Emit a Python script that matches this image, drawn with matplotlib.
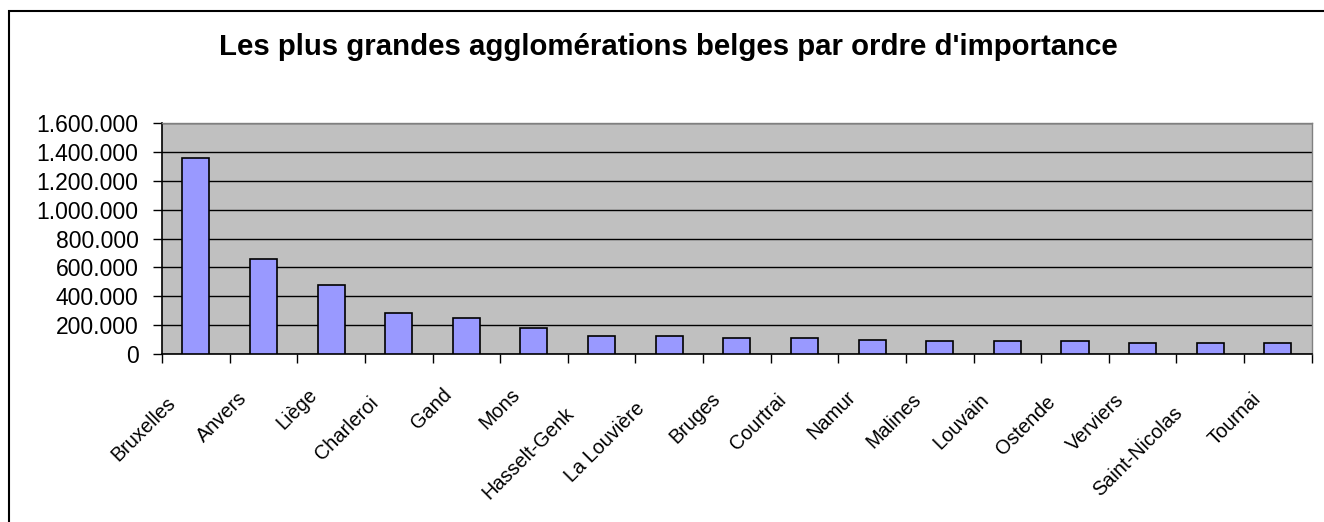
# bar chart: largest Belgian agglomerations
import matplotlib.pyplot as plt
from matplotlib.patches import Rectangle
from matplotlib.ticker import FuncFormatter
import matplotlib.transforms as mtransforms

cities = ["Bruxelles", "Anvers", "Liège", "Charleroi", "Gand", "Mons",
          "Hasselt-Genk", "La Louvière", "Bruges", "Courtrai", "Namur",
          "Malines", "Louvain", "Ostende", "Verviers", "Saint-Nicolas", "Tournai"]
population = [1360000, 655000, 475000, 280000, 250000, 180000,
              125000, 125000, 112000, 112000, 98000,
              86000, 86000, 86000, 72000, 72000, 72000]
yticks = list(range(0, 1600001, 200000))

plt.rcParams['font.family'] = ['Liberation Sans', 'DejaVu Sans']

W, H = 1324, 522
fig = plt.figure(figsize=(W / 100, H / 100), dpi=100)
ax = fig.add_axes([162 / W, 1 - 353.7 / H, (1311.7 - 162) / W, (353.7 - 123.3) / H])

# chart-area frame (right and bottom sides fall outside the picture)
fig.patches.append(Rectangle((9 / W, -0.5), 2.0, 1 - 11 / H + 0.5, transform=fig.transFigure,
                             fill=False, edgecolor='black', linewidth=1.5))

fig.text(668 / W, 1 - 55 / H, "Les plus grandes agglomérations belges par ordre d'importance",
         ha='center', va='baseline', fontsize=21.2, fontweight='bold')

xlocs = range(len(cities))
ax.set_facecolor('#C0C0C0')
ax.bar(xlocs, population, width=0.4, color='#9999FF', edgecolor='black', linewidth=1.2, zorder=3)
ax.set_xlim(-0.5, len(cities) - 0.5)
ax.set_ylim(0, 1600000)
ax.set_yticks(yticks)
ax.yaxis.set_major_formatter(FuncFormatter(lambda v, p: f"{int(v):,}".replace(",", ".")))
ax.yaxis.grid(True, color='black', linewidth=1.0, zorder=1)
ax.set_axisbelow(True)

# category boundary ticks on x, names on minor ticks at bar centres
ax.set_xticks([i - 0.5 for i in range(len(cities) + 1)])
ax.set_xticklabels([])
ax.set_xticks(list(xlocs), minor=True)
ax.set_xticklabels(cities, minor=True, rotation=45, ha='right', va='top',
                   rotation_mode='anchor', fontsize=14.3)
ax.tick_params(axis='x', which='minor', length=0, pad=26)
ax.tick_params(axis='x', which='major', length=6.5, width=1.0, direction='out')
ax.tick_params(axis='y', length=6.5, width=1.0, direction='out', labelsize=16.5, pad=10.5)

# longer names sit a little lower and further left, like the original
renderer = fig.canvas.get_renderer()
for lbl in ax.xaxis.get_minorticklabels():
    w = renderer.get_text_width_height_descent(lbl.get_text(), lbl.get_fontproperties(), ismath=False)[0]
    extra = w - 49
    dx = -24 - 0.19 * extra
    dy = 5 - 0.26 * extra
    offset = mtransforms.ScaledTranslation(dx / 100, dy / 100, fig.dpi_scale_trans)
    lbl.set_transform(lbl.get_transform() + offset)

for side in ['top', 'right']:
    ax.spines[side].set_color('#808080')
    ax.spines[side].set_linewidth(1.0)
for side in ['left', 'bottom']:
    ax.spines[side].set_color('black')
    ax.spines[side].set_linewidth(1.2)

fig.savefig('out.png', dpi=100)
